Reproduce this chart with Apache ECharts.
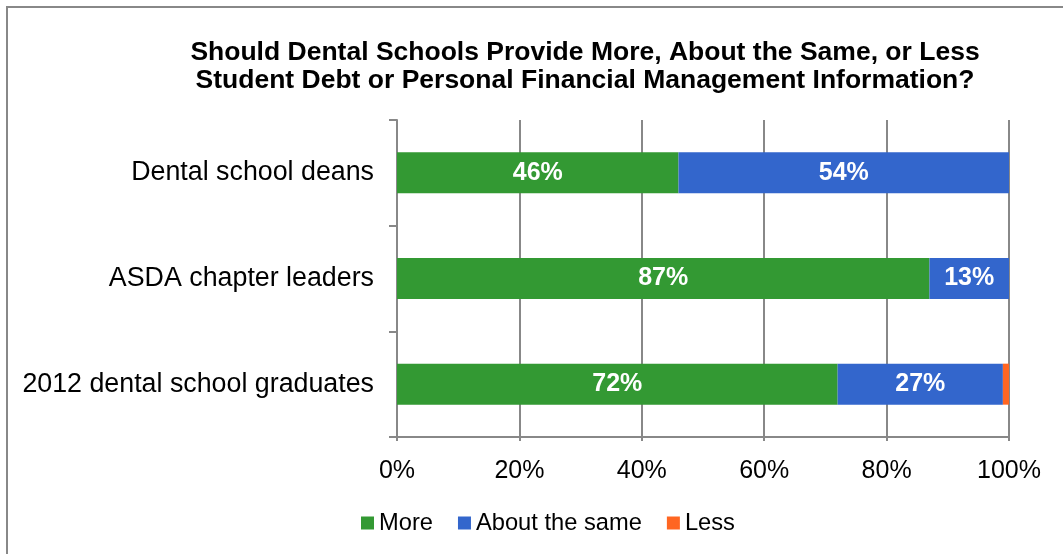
<!DOCTYPE html>
<html>
<head>
<meta charset="utf-8">
<script src="https://cdn.jsdelivr.net/npm/echarts@6/dist/echarts.min.js"></script>
<style>
  html, body { margin: 0; padding: 0; background: #fff; }
  #chart { width: 1063px; height: 554px; }
</style>
</head>
<body>
<div id="chart"></div>
<script>
// Survey groups, top to bottom
const categories = ['Dental school deans', 'ASDA chapter leaders', '2012 dental school graduates'];
// Share of respondents per answer (%)
const moreValues = [46, 87, 72];
const sameValues = [54, 13, 27];
const lessValues = [0, 0, 1];
const xTickLabels = ['0%', '20%', '40%', '60%', '80%', '100%'];

const FONT = '"Liberation Sans", Arial, sans-serif';
const chart = echarts.init(document.getElementById('chart'));

const barLabel = {
  show: true,
  position: 'inside',
  color: '#fff',
  fontFamily: FONT,
  fontWeight: 'bold',
  fontSize: 25,
  formatter: p => p.value + '%'
};

chart.setOption({
  animation: false,
  backgroundColor: '#fff',
  graphic: [{
    type: 'rect',
    shape: { x: 7, y: 7, width: 1100, height: 600 },
    style: { fill: 'none', stroke: '#888', lineWidth: 2 }
  }],
  title: {
    text: 'Should Dental Schools Provide More, About the Same, or Less\nStudent Debt or Personal Financial Management Information?',
    left: 580,
    top: 33,
    textAlign: 'center',
    textStyle: {
      fontFamily: FONT,
      fontWeight: 'bold',
      fontSize: 26.5,
      lineHeight: 28.5,
      color: '#000'
    }
  },
  legend: {
    bottom: 14,
    left: 356,
    itemWidth: 13,
    itemHeight: 13,
    itemGap: 25,
    icon: 'rect',
    textStyle: { fontFamily: FONT, fontSize: 23.7, color: '#000' },
    data: ['More', 'About the same', 'Less']
  },
  grid: { left: 397, right: 54, top: 120, bottom: 117, containLabel: false },
  xAxis: {
    type: 'value',
    min: 0,
    max: 100,
    interval: 20,
    axisLine: { show: true, lineStyle: { color: '#888', width: 2 } },
    axisTick: { show: true, length: 4, lineStyle: { color: '#888', width: 2 } },
    splitLine: { show: true, lineStyle: { color: '#888', width: 2 } },
    axisLabel: {
      fontFamily: FONT,
      fontSize: 25,
      color: '#000',
      margin: 22,
      formatter: v => xTickLabels[v / 20]
    }
  },
  yAxis: {
    type: 'category',
    inverse: true,
    data: categories,
    axisLine: { show: true, lineStyle: { color: '#888', width: 2 } },
    axisTick: { show: true, length: 8, lineStyle: { color: '#888', width: 2 } },
    axisLabel: { fontFamily: FONT, fontSize: 26.8, color: '#000', margin: 23 }
  },
  series: [
    {
      name: 'More', type: 'bar', stack: 'total', barWidth: 41,
      itemStyle: { color: '#339933' }, label: barLabel, data: moreValues
    },
    {
      name: 'About the same', type: 'bar', stack: 'total', barWidth: 41,
      itemStyle: { color: '#3366CC' }, label: barLabel, data: sameValues
    },
    {
      name: 'Less', type: 'bar', stack: 'total', barWidth: 41,
      itemStyle: { color: '#FF6622' }, label: { show: false }, data: lessValues
    }
  ]
});
</script>
</body>
</html>
